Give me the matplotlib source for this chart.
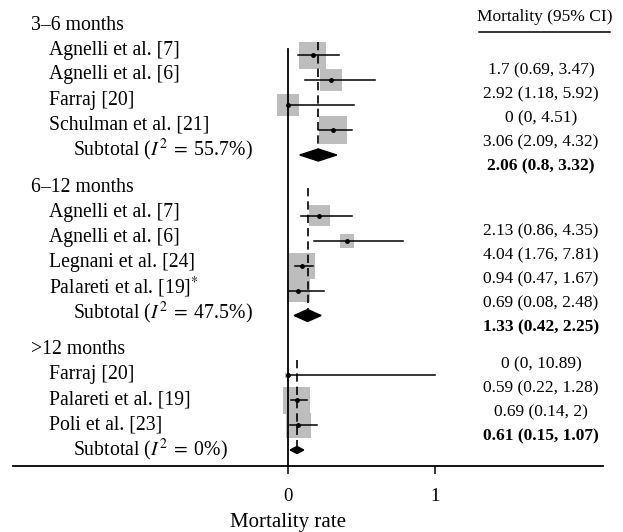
import matplotlib
matplotlib.use("Agg")
import matplotlib.pyplot as plt
from matplotlib.patches import Rectangle, Polygon

plt.rcParams.update({
    "font.family": "Liberation Serif",
    "mathtext.fontset": "stix",
})

# ---------------------------------------------------------------------------
# Data (mortality per 100 patient-years, 95% CI)
# ---------------------------------------------------------------------------
GROUPS = ["3–6 months", "6–12 months", ">12 months"]
STUDIES = [
    ["Agnelli et al. [7]", "Agnelli et al. [6]", "Farraj [20]", "Schulman et al. [21]"],
    ["Agnelli et al. [7]", "Agnelli et al. [6]", "Legnani et al. [24]", "Palareti et al. [19]$^{*}$"],
    ["Farraj [20]", "Palareti et al. [19]", "Poli et al. [23]"],
]
EST = [[1.7, 2.92, 0, 3.06], [2.13, 4.04, 0.94, 0.69], [0, 0.59, 0.69]]
LO = [[0.69, 1.18, 0, 2.09], [0.86, 1.76, 0.47, 0.08], [0, 0.22, 0.14]]
HI = [[3.47, 5.92, 4.51, 4.32], [4.35, 7.81, 1.67, 2.48], [10.89, 1.28, 2]]
# study weight, shown as box side (px)
WEIGHT = [[27, 22, 22, 28], [21, 14, 26, 23], [5, 27, 25]]

SUB_EST = [2.06, 1.33, 0.61]
SUB_LO = [0.8, 0.42, 0.15]
SUB_HI = [3.32, 2.25, 1.07]
I2 = ["55.7%", "47.5%", "0%"]

STUDY_TXT = [
    ["1.7 (0.69, 3.47)", "2.92 (1.18, 5.92)", "0 (0, 4.51)", "3.06 (2.09, 4.32)"],
    ["2.13 (0.86, 4.35)", "4.04 (1.76, 7.81)", "0.94 (0.47, 1.67)", "0.69 (0.08, 2.48)"],
    ["0 (0, 10.89)", "0.59 (0.22, 1.28)", "0.69 (0.14, 2)"],
]
SUB_TXT = ["2.06 (0.8, 3.32)", "1.33 (0.42, 2.25)", "0.61 (0.15, 1.07)"]

SCALE = 10.0        # axis unit = 10 per 100 patient-years
XMAX = 1.0

# ---------------------------------------------------------------------------
# Layout (y in pixels from the top)
# ---------------------------------------------------------------------------
W, H = 623, 532
PX = 147.0          # pixels per axis unit
X0 = 288            # pixel of x = 0
HEADER_ROW = [0, 6.5, 13]
MARK_SHIFT = [5, 3, 0]
DASH_TOP = [42, 188, 360]
DIAMOND_H = [6, 6, 3.5]
RIGHT_START = [70, 231, 364]
RIGHT_STEP = 24.0
AX_BOTTOM = 466
FS = 14.2
FS_R = 12.5


def row_px(r):
    return 25 + 25 * r


def xd(px):
    return (px - X0) / PX


fig = plt.figure(figsize=(W / 100, H / 100), dpi=100)
ax = fig.add_axes([13 / W, (H - AX_BOTTOM) / H, 590 / W, AX_BOTTOM / H])
ax.set_xlim(xd(13), xd(603))
ax.set_ylim(AX_BOTTOM, 0)
for s in ["top", "right", "left"]:
    ax.spines[s].set_visible(False)
ax.spines["bottom"].set_linewidth(1.3)
ax.set_yticks([])
ax.set_xticks([0, 1])
ax.set_xticklabels(["0", "1"], fontsize=13.5)
ax.tick_params(axis="x", direction="out", length=6, width=1.1, pad=10)

# solid null line
ax.plot([0, 0], [49, AX_BOTTOM], color="black", lw=1.3, zorder=4)

for g, grp in enumerate(GROUPS):
    hr = HEADER_ROW[g]
    ax.text(xd(31), row_px(hr), grp, fontsize=FS, ha="left", va="center", clip_on=False)
    n = len(STUDIES[g])
    for i in range(n):
        y_txt = row_px(hr + 1 + i)
        y = y_txt + MARK_SHIFT[g]
        ax.text(xd(49), y_txt, STUDIES[g][i], fontsize=FS, ha="left", va="center", clip_on=False)
        e = EST[g][i] / SCALE
        lo = LO[g][i] / SCALE
        hi = min(HI[g][i] / SCALE, XMAX)
        side = WEIGHT[g][i]
        ax.add_patch(Rectangle((e - side / 2 / PX, y - side / 2), side / PX, side,
                               facecolor="#bdbdbd", edgecolor="none", zorder=2))
        ax.plot([lo, hi], [y, y], color="black", lw=1.1, zorder=3)
        ax.plot([e], [y], "o", color="black", ms=2.5, zorder=5)
        ax.text(xd(541), RIGHT_START[g] + RIGHT_STEP * i, STUDY_TXT[g][i],
                fontsize=FS_R, ha="center", va="center", clip_on=False)

    # subtotal
    y_txt = row_px(hr + 1 + n)
    y = y_txt + MARK_SHIFT[g]
    ax.text(xd(73), y_txt, "Subtotal ($I^2\\;=\\;$" + I2[g] + ")", fontsize=FS,
            ha="left", va="center", clip_on=False)
    se, sl, sh = SUB_EST[g] / SCALE, SUB_LO[g] / SCALE, SUB_HI[g] / SCALE
    dh = DIAMOND_H[g]
    ax.add_patch(Polygon([(sl, y), (se, y - dh), (sh, y), (se, y + dh)],
                         closed=True, facecolor="black", edgecolor="black", zorder=4))
    ax.plot([se, se], [DASH_TOP[g], y], color="black", lw=1.2,
            linestyle=(0, (5, 3)), zorder=3)
    ax.text(xd(541), RIGHT_START[g] + RIGHT_STEP * n, SUB_TXT[g],
            fontsize=FS_R, ha="center", va="center", fontweight="bold", clip_on=False)

# right column header
ax.text(xd(545), 17, "Mortality (95% CI)", fontsize=FS_R, ha="center", va="center", clip_on=False)
ax.plot([xd(479), xd(610)], [32, 32], color="black", lw=1.1, clip_on=False)

# x label
ax.text(0, 522, "Mortality rate", fontsize=15, ha="center", va="center", clip_on=False)

fig.savefig("out.png", dpi=100)
